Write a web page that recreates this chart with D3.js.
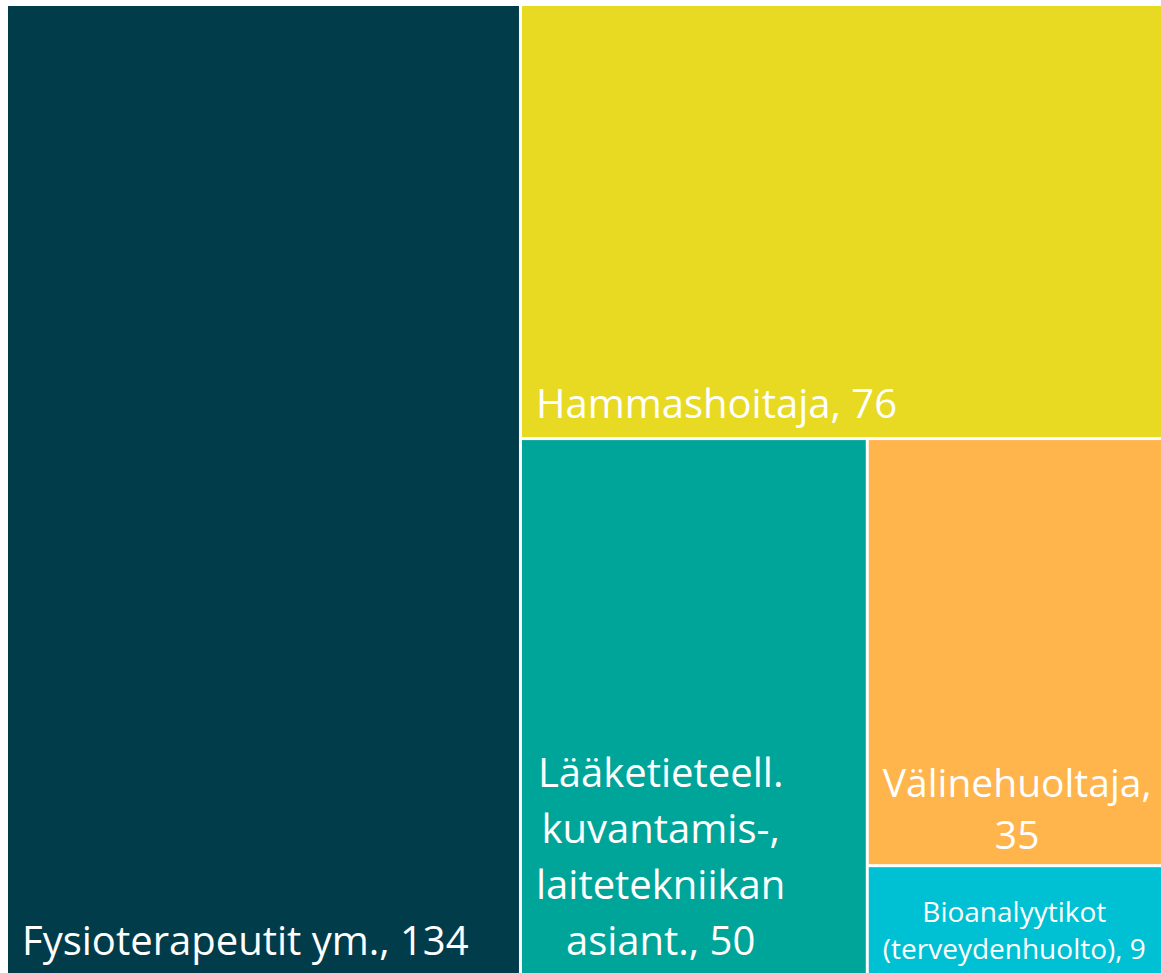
<!DOCTYPE html>
<html>
<head>
<meta charset="utf-8">
<script src="https://cdn.jsdelivr.net/npm/d3@7"></script>
<style>
  body { margin: 0; background: #fff; overflow: hidden; }
  svg { display: block; }
</style>
</head>
<body>
<div id="chart"></div>
<script>
// ammattiryhmät ja lukumäärät
const names = ["Fysioterapeutit ym.", "Hammashoitaja", "Lääketieteell. kuvantamis-, laitetekniikan asiant.", "Välinehuoltaja", "Bioanalyytikot (terveydenhuolto)"];
const values = [134, 76, 50, 35, 9];
const colors = ["#013C4B", "#E8DA22", "#00A59A", "#FFB44C", "#00C1D3"];

const width = 1161, height = 973;
const offsetX = 8, offsetY = 6;
const baseFont = 40;
const fontFamily = "'Segoe UI', 'Open Sans', sans-serif";

let svg = d3.select("#chart").append("svg")
    .attr("width", width)
    .attr("height", height);

let root = d3.hierarchy({children: names.map((n, i) => ({name: n, value: values[i], color: colors[i]}))})
    .sum(d => d.value || 0);

d3.treemap()
    .tile(d3.treemapSquarify.ratio(1))
    .size([1163, 968])
    .paddingInner(3)
    (root);

// move to page coordinates
root.leaves().forEach(d => { d.x0 += offsetX; d.x1 += offsetX; d.y0 += offsetY; d.y1 += offsetY; });

let cell = svg.selectAll("g.cell")
    .data(root.leaves())
    .enter()
    .append("g")
    .attr("class", "cell");

cell.append("rect")
    .attr("x", d => d.x0)
    .attr("y", d => d.y0)
    .attr("width", d => d.x1 - d.x0)
    .attr("height", d => d.y1 - d.y0)
    .style("fill", d => d.data.color);

// measuring helper
let measure = svg.append("text").style("font-family", fontFamily).attr("x", -9999);
function textWidth(str, size) {
    measure.style("font-size", size + "px").text(str);
    return measure.node().getComputedTextLength();
}

function wrap(words, size, maxW) {
    let lines = [];
    let cur = "";
    words.forEach(w => {
        let t = cur ? cur + " " + w : w;
        if (cur && textWidth(t, size) > maxW) {
            lines.push(cur);
            cur = w;
        } else {
            cur = t;
        }
    });
    if (cur) lines.push(cur);
    return lines;
}

cell.each(function(d) {
    let g = d3.select(this);
    let label = d.data.name + ", " + d.data.value;
    let words = label.split(" ");
    let maxW = (Math.min(d.x1, width) - d.x0) - 20;
    let maxH = d.y1 - d.y0 - 16;
    let size = baseFont;
    let lines;
    while (size > 8) {
        lines = wrap(words, size, maxW);
        let widest = d3.max(lines, l => textWidth(l, size));
        if (widest <= maxW && lines.length * size * 1.35 <= maxH) break;
        size -= 1;
    }
    let lineH = size * (size < baseFont ? 1.33 : 1.4);
    // block sits at the left, lines centred inside it
    let blockW = d3.max(lines, l => textWidth(l, size));
    let cx = d.x0 + 14 + blockW / 2;
    let baseY = d.y1 - (size < baseFont ? 15 : 19);

    let text = g.append("text")
        .style("font-family", fontFamily)
        .style("font-size", size + "px")
        .style("fill", "#fff")
        .attr("text-anchor", "middle");

    lines.forEach((l, i) => {
        text.append("tspan")
            .attr("x", cx)
            .attr("y", baseY - (lines.length - 1 - i) * lineH)
            .text(l);
    });
});
measure.remove();
</script>
</body>
</html>
